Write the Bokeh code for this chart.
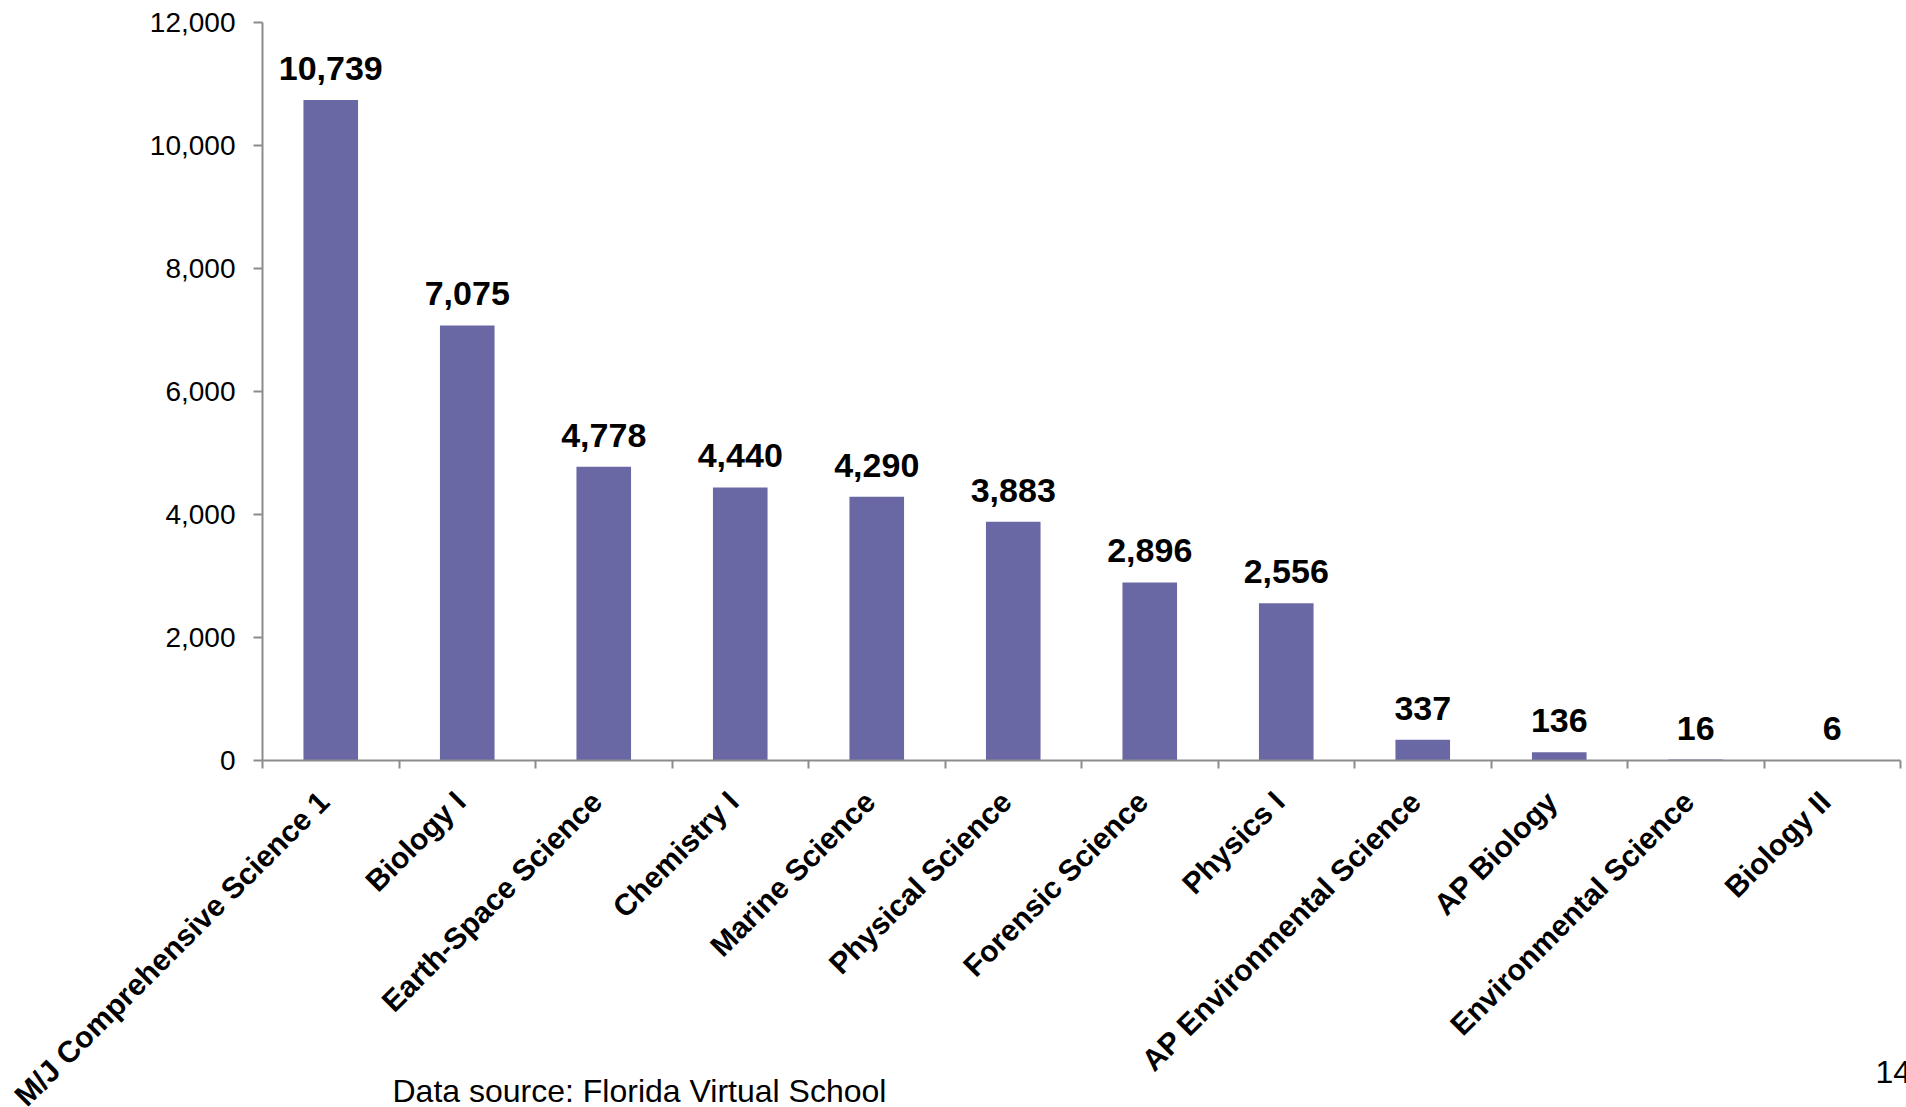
import math
from bokeh.plotting import figure
from bokeh.models import (ColumnDataSource, Range1d, FixedTicker,
                          NumeralTickFormatter, LabelSet, Label,
                          CustomJSTickFormatter)
from bokeh.core.properties import value
from bokeh.embed import file_html
from bokeh.resources import INLINE

# ---- data ----
categories = [
    "M/J Comprehensive Science 1", "Biology I", "Earth-Space Science",
    "Chemistry I", "Marine Science", "Physical Science", "Forensic Science",
    "Physics I", "AP Environmental Science", "AP Biology",
    "Environmental Science", "Biology II",
]
enrollments = [10739, 7075, 4778, 4440, 4290, 3883, 2896, 2556, 337, 136, 16, 6]
y_ticks = [0, 2000, 4000, 6000, 8000, 10000, 12000]
source_note = "Data source: Florida Virtual School"
page_number = "14"

# ---- layout / styles ----
W, H = 1906, 1107
AX_LEFT, AX_RIGHT = 262, 1900      # canvas px of the plot area's left / right edge
AX_TOP, AX_ZERO = 22, 760          # canvas px of the top tick and of the zero line
LABEL_SHIFT_PX = -7                # horizontal nudge of the rotated category names
FONT = "Liberation Sans"
BAR = "#6A68A4"
AXIS = "#8C8C8C"

n = len(categories)
y_max = y_ticks[-1]
px_x = (AX_RIGHT - AX_LEFT) / n
px_y = (AX_ZERO - AX_TOP) / y_max
x_range = Range1d(-0.5 - AX_LEFT / px_x, n - 0.5 + (W - AX_RIGHT) / px_x)
y_range = Range1d(-(H - AX_ZERO) / px_y, y_max + AX_TOP / px_y)

idx = list(range(n))
src = ColumnDataSource(dict(
    x=idx,
    y=enrollments,
    label=[f"{v:,}" for v in enrollments],
))

p = figure(width=W, height=H, output_backend="svg", toolbar_location=None,
           x_range=x_range, y_range=y_range,
           min_border_left=0, min_border_right=0,
           min_border_top=0, min_border_bottom=0)
p.outline_line_color = None
p.grid.grid_line_color = None
p.background_fill_color = "white"
p.border_fill_color = "white"

p.vbar(x="x", top="y", bottom=0, width=0.4, source=src,
       fill_color=BAR, line_color=None)

# y axis, pinned to the left edge of the category area
yax = p.yaxis[0]
yax.fixed_location = -0.5
yax.bounds = (0, y_max)
yax.ticker = FixedTicker(ticks=y_ticks)
yax.formatter = NumeralTickFormatter(format="0,0")
yax.major_label_text_font = FONT
yax.major_label_text_font_size = "28px"
yax.major_label_text_color = "black"
yax.major_label_standoff = 18
yax.major_tick_in = 0
yax.major_tick_out = 9
yax.major_tick_line_color = AXIS
yax.major_tick_line_width = 2
yax.minor_tick_line_color = None
yax.axis_line_color = AXIS
yax.axis_line_width = 2

# x axis, pinned at zero: tick marks at category boundaries, rotated names
shift = LABEL_SHIFT_PX / px_x
xax = p.xaxis[0]
xax.fixed_location = 0
xax.bounds = (-0.5, n - 0.5)
xax.ticker = FixedTicker(ticks=[i + shift for i in idx],
                         minor_ticks=[i - 0.5 for i in range(n + 1)])
xax.formatter = CustomJSTickFormatter(
    args=dict(names=categories),
    code="const i = Math.round(tick); return (i >= 0 && i < names.length) ? names[i] : '';")
xax.major_label_orientation = math.pi / 4
xax.major_label_standoff = 28
xax.major_label_text_font = FONT
xax.major_label_text_font_style = "bold"
xax.major_label_text_font_size = "30px"
xax.major_label_text_color = "black"
xax.major_tick_in = 0
xax.major_tick_out = 0
xax.major_tick_line_color = None
xax.minor_tick_in = 0
xax.minor_tick_out = 8
xax.minor_tick_line_color = AXIS
xax.minor_tick_line_width = 2
xax.axis_line_color = AXIS
xax.axis_line_width = 2

val_labels = LabelSet(x="x", y="y", text="label", source=src,
                      text_align="center", text_baseline="alphabetic",
                      y_offset=20, text_font=value(FONT), text_font_style="bold",
                      text_font_size="34px", text_color="black")
p.add_layout(val_labels)

p.add_layout(Label(x=392, y=17, x_units="screen", y_units="screen",
                   text=source_note, text_font=FONT, text_font_size="32px",
                   text_color="black", text_baseline="alphabetic"))
p.add_layout(Label(x=1875, y=36, x_units="screen", y_units="screen",
                   text=page_number, text_font=FONT, text_font_size="32px",
                   text_color="black", text_baseline="alphabetic"))

open("out.html", "w").write(file_html(p, INLINE))
